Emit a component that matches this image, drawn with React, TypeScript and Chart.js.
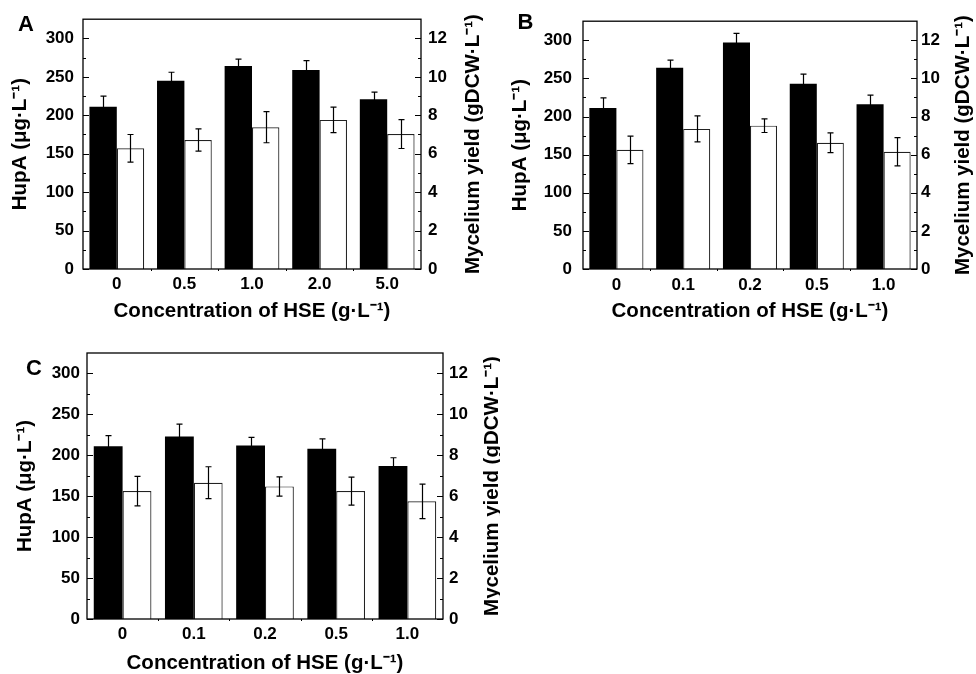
import React, { useEffect, useRef } from 'react';
import { Chart, registerables } from 'chart.js';

Chart.register(...registerables);

const FONT = "'Liberation Sans', Arial, Helvetica, sans-serif";

// ---------- data ----------
const hseA = ['0', '0.5', '1.0', '2.0', '5.0'];
const hseB = ['0', '0.1', '0.2', '0.5', '1.0'];
const hseC = ['0', '0.1', '0.2', '0.5', '1.0'];

const hupaA = [211, 245, 264, 259, 221];
const hupaErrA = [14, 11, 9, 12, 9];
const yieldA = [6.28, 6.71, 7.38, 7.76, 7.02];
const yieldErrA = [0.72, 0.58, 0.81, 0.66, 0.75];

const hupaB = [211, 264, 297, 243, 216];
const hupaErrB = [13.5, 10, 12, 12.5, 12];
const yieldB = [6.25, 7.35, 7.52, 6.62, 6.15];
const yieldErrB = [0.72, 0.68, 0.36, 0.52, 0.74];

const hupaC = [211, 223, 212, 208, 187];
const hupaErrC = [13, 15, 10, 12, 10];
const yieldC = [6.25, 6.66, 6.48, 6.25, 5.75];
const yieldErrC = [0.72, 0.78, 0.47, 0.68, 0.84];

const leftTicks = [0, 50, 100, 150, 200, 250, 300];
const rightTicks = [0, 2, 4, 6, 8, 10, 12];
const leftMax = 325;
const rightMax = 13;

const xTitle = 'Concentration of HSE (g·L⁻¹)';
const leftTitle = 'HupA (μg·L⁻¹)';
const rightTitle = 'Mycelium yield (gDCW·L⁻¹)';

// ---------- layout (positions/styles only) ----------
type Panel = {
  letter: string;
  labels: string[];
  hupa: number[];
  hupaErr: number[];
  yld: number[];
  yldErr: number[];
  left: number; top: number; w: number; h: number;
  padTop: number; yWidth: number; y1Width: number; xHeight: number;
  yTickPad: number; y1TickPad: number; xTickPad: number;
  yTitlePad: number; xTitlePad: number;
  rightTitleX: number; letterX: number; letterY: number;
};

const panels: Panel[] = [
  {
    letter: 'A', labels: hseA, hupa: hupaA, hupaErr: hupaErrA, yld: yieldA, yldErr: yieldErrA,
    left: 0, top: 0, w: 490, h: 330,
    padTop: 15, yWidth: 83, y1Width: 69, xHeight: 61,
    yTickPad: 9, y1TickPad: 7, xTickPad: 5, yTitlePad: 10, xTitlePad: 8,
    rightTitleX: 473.5, letterX: 26, letterY: 25,
  },
  {
    letter: 'B', labels: hseB, hupa: hupaB, hupaErr: hupaErrB, yld: yieldB, yldErr: yieldErrB,
    left: 490, top: 0, w: 486, h: 330,
    padTop: 21, yWidth: 93, y1Width: 59, xHeight: 61,
    yTickPad: 11, y1TickPad: 4, xTickPad: 6, yTitlePad: 20.5, xTitlePad: 8,
    rightTitleX: 473.5, letterX: 35.5, letterY: 22.5,
  },
  {
    letter: 'C', labels: hseC, hupa: hupaC, hupaErr: hupaErrC, yld: yieldC, yldErr: yieldErrC,
    left: 0, top: 330, w: 500, h: 344,
    padTop: 23, yWidth: 87, y1Width: 57, xHeight: 55,
    yTickPad: 7, y1TickPad: 6, xTickPad: 5, yTitlePad: 15.5, xTitlePad: 0.5,
    rightTitleX: 492, letterX: 34, letterY: 38.5,
  },
];

const tickFont = { family: FONT, size: 17, weight: 'bold' as const };
const titleFont = { family: FONT, size: 20.5, weight: 'bold' as const, lineHeight: 1 };

function makeDecor(p: Panel) {
  return {
    id: 'decor' + p.letter,
    afterDatasetsDraw(chart: any) {
      const ctx: CanvasRenderingContext2D = chart.ctx;
      const { left, right, top, bottom } = chart.chartArea;
      const ys = chart.scales.y;
      const y1s = chart.scales.y1;
      const xs = chart.scales.x;
      ctx.save();
      ctx.strokeStyle = '#000';
      // error bars
      chart.data.datasets.forEach((ds: any, di: number) => {
        const meta = chart.getDatasetMeta(di);
        const sc = chart.scales[ds.yAxisID];
        meta.data.forEach((el: any, i: number) => {
          const v = ds.data[i];
          const e = ds.errors[i];
          const cx = Math.round(el.x) + 0.5;
          const yt = sc.getPixelForValue(v + e);
          const yb = sc.getPixelForValue(v - e);
          ctx.lineWidth = 1.2;
          ctx.beginPath();
          ctx.moveTo(cx, yt);
          ctx.lineTo(cx, yb);
          ctx.moveTo(cx - 3, yt);
          ctx.lineTo(cx + 3, yt);
          ctx.moveTo(cx - 3, yb);
          ctx.lineTo(cx + 3, yb);
          ctx.stroke();
        });
      });
      // frame
      ctx.lineWidth = 1.3;
      ctx.strokeRect(left, top, right - left, bottom - top);
      // inward ticks
      ctx.lineWidth = 1;
      ctx.beginPath();
      leftTicks.forEach((v, i) => {
        const py = Math.round(ys.getPixelForValue(v)) + 0.5;
        ctx.moveTo(left, py);
        ctx.lineTo(left + 6, py);
        if (i < leftTicks.length - 1) {
          const my = Math.round(ys.getPixelForValue((v + leftTicks[i + 1]) / 2)) + 0.5;
          ctx.moveTo(left, my);
          ctx.lineTo(left + 3, my);
        }
      });
      rightTicks.forEach((v, i) => {
        const py = Math.round(y1s.getPixelForValue(v)) + 0.5;
        ctx.moveTo(right, py);
        ctx.lineTo(right - 6, py);
        if (i < rightTicks.length - 1) {
          const my = Math.round(y1s.getPixelForValue((v + rightTicks[i + 1]) / 2)) + 0.5;
          ctx.moveTo(right, my);
          ctx.lineTo(right - 3, my);
        }
      });
      // x boundary ticks
      for (let i = 1; i < p.labels.length; i++) {
        const bx = Math.round((xs.getPixelForTick(i - 1) + xs.getPixelForTick(i)) / 2) + 0.5;
        ctx.moveTo(bx, bottom);
        ctx.lineTo(bx, bottom + 2);
      }
      ctx.stroke();
      // right title (reads bottom-to-top)
      ctx.fillStyle = '#000';
      ctx.font = `bold 20.5px ${FONT}`;
      ctx.textAlign = 'center';
      ctx.textBaseline = 'middle';
      ctx.save();
      ctx.translate(p.rightTitleX, (top + bottom) / 2);
      ctx.rotate(-Math.PI / 2);
      ctx.fillText(rightTitle, 0, 0);
      ctx.restore();
      // panel letter
      ctx.font = `bold 22px ${FONT}`;
      ctx.fillText(p.letter, p.letterX, p.letterY);
      ctx.restore();
    },
  };
}

function PanelChart({ p }: { p: Panel }) {
  const ref = useRef<HTMLCanvasElement | null>(null);
  useEffect(() => {
    if (!ref.current) return;
    const chart = new Chart(ref.current, {
      type: 'bar',
      data: {
        labels: p.labels,
        datasets: [
          {
            label: 'HupA',
            data: p.hupa,
            errors: p.hupaErr,
            yAxisID: 'y',
            backgroundColor: '#000',
            borderWidth: 0,
            barPercentage: 1,
            categoryPercentage: 0.81,
          } as any,
          {
            label: 'Mycelium yield',
            data: p.yld,
            errors: p.yldErr,
            yAxisID: 'y1',
            backgroundColor: '#fff',
            borderColor: '#222',
            borderWidth: 1.2,
            barPercentage: 1,
            categoryPercentage: 0.81,
          } as any,
        ],
      },
      options: {
        responsive: false,
        animation: false,
        devicePixelRatio: 1,
        layout: { padding: { top: p.padTop, left: 0, right: 0, bottom: 0 } },
        plugins: {
          legend: { display: false },
          tooltip: { enabled: false },
          title: { display: false },
        },
        scales: {
          x: {
            type: 'category',
            grid: { display: false, drawTicks: false },
            border: { display: false },
            ticks: { font: tickFont, color: '#000', padding: p.xTickPad, autoSkip: false, maxRotation: 0 },
            title: {
              display: true,
              text: xTitle,
              font: titleFont,
              color: '#000',
              padding: { top: 0, bottom: p.xTitlePad },
            },
            afterFit: (s: any) => {
              s.height = p.xHeight;
            },
          },
          y: {
            position: 'left',
            min: 0,
            max: leftMax,
            grid: { display: false, drawTicks: false },
            border: { display: false },
            ticks: { font: tickFont, color: '#000', padding: p.yTickPad },
            afterBuildTicks: (s: any) => {
              s.ticks = leftTicks.map((v) => ({ value: v }));
            },
            title: {
              display: true,
              text: leftTitle,
              font: titleFont,
              color: '#000',
              padding: { top: p.yTitlePad, bottom: 0 },
            },
            afterFit: (s: any) => {
              s.width = p.yWidth;
            },
          },
          y1: {
            position: 'right',
            min: 0,
            max: rightMax,
            grid: { display: false, drawTicks: false },
            border: { display: false },
            ticks: { font: tickFont, color: '#000', padding: p.y1TickPad },
            afterBuildTicks: (s: any) => {
              s.ticks = rightTicks.map((v) => ({ value: v }));
            },
            title: { display: false },
            afterFit: (s: any) => {
              s.width = p.y1Width;
            },
          },
        },
      } as any,
      plugins: [makeDecor(p)],
    });
    return () => chart.destroy();
  }, [p]);
  return (
    <canvas
      ref={ref}
      width={p.w}
      height={p.h}
      style={{ position: 'absolute', left: p.left, top: p.top, width: p.w, height: p.h }}
    />
  );
}

export default function App() {
  return (
    <div style={{ position: 'absolute', left: 0, top: 0, width: 976, height: 674, background: '#fff' }}>
      {panels.map((p) => (
        <PanelChart key={p.letter} p={p} />
      ))}
    </div>
  );
}
